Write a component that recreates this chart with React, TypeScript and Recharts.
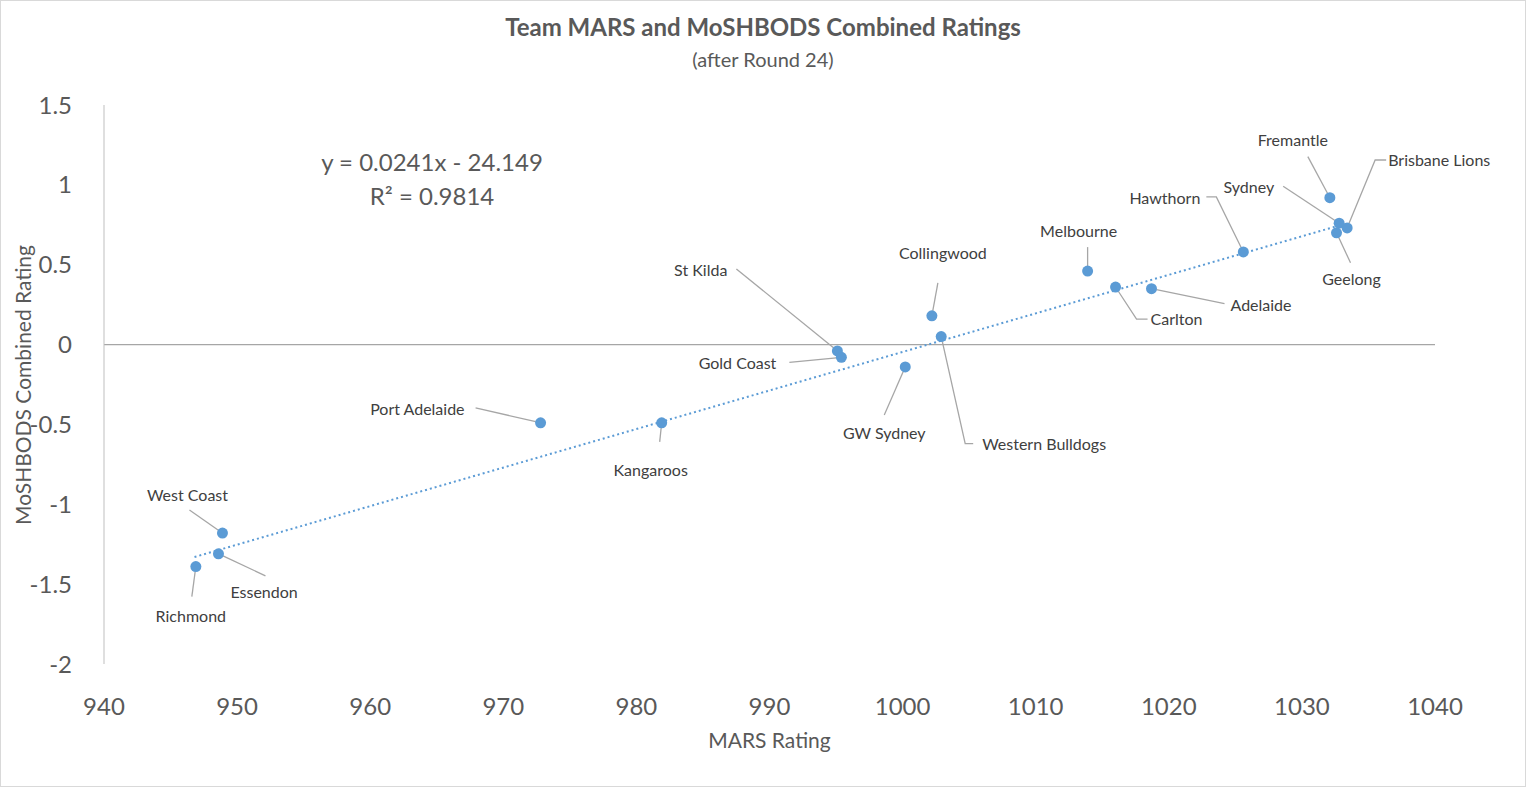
import React from "react";
import { ScatterChart, Scatter, XAxis, YAxis, ReferenceLine } from "recharts";

const teams = ["Richmond", "Essendon", "West Coast", "Port Adelaide", "Kangaroos", "St Kilda", "Gold Coast", "GW Sydney", "Collingwood", "Western Bulldogs", "Melbourne", "Carlton", "Adelaide", "Hawthorn", "Fremantle", "Sydney", "Geelong", "Brisbane Lions"];
const marsRatings = [946.9, 948.6, 948.9, 972.8, 981.9, 995.1, 995.4, 1000.2, 1002.2, 1002.9, 1013.9, 1016.0, 1018.7, 1025.6, 1032.1, 1032.8, 1032.6, 1033.4];
const moshbodsRatings = [-1.39, -1.31, -1.18, -0.49, -0.49, -0.04, -0.08, -0.14, 0.18, 0.05, 0.46, 0.36, 0.35, 0.58, 0.92, 0.76, 0.70, 0.73];
const trendX = [946.8, 1033.4];
const trendY = [-1.33, 0.76];
const xTicks = [940, 950, 960, 970, 980, 990, 1000, 1010, 1020, 1030, 1040];
const yTicks = [-2, -1.5, -1, -0.5, 0, 0.5, 1, 1.5];

// label placement: text offset, leader start offset, optional elbow offset (px from point)
const labelPos: Record<string, { t: [number, number]; anchor: string; l?: number[][] }> = {
  Richmond: { t: [-5, 55], anchor: "middle", l: [[-4, 30]] },
  Essendon: { t: [12, 44], anchor: "start", l: [[47, 22]] },
  "West Coast": { t: [-35, -32], anchor: "middle", l: [[-33, -23]] },
  "Port Adelaide": { t: [-76, -8], anchor: "end", l: [[-65, -15]] },
  Kangaroos: { t: [-11, 53], anchor: "middle", l: [[-2, 19]] },
  "St Kilda": { t: [-110, -75], anchor: "end", l: [[-101, -82]] },
  "Gold Coast": { t: [-65, 12], anchor: "end", l: [[-52, 5]] },
  "GW Sydney": { t: [-21, 72], anchor: "middle", l: [[-21, 48]] },
  Collingwood: { t: [11, -57], anchor: "middle", l: [[6, -33]] },
  "Western Bulldogs": { t: [41, 113], anchor: "start", l: [[32, 107], [24, 107]] },
  Melbourne: { t: [-9, -34], anchor: "middle", l: [[0, -24]] },
  Carlton: { t: [35, 38], anchor: "start", l: [[32, 32], [21, 32]] },
  Adelaide: { t: [79, 22], anchor: "start", l: [[73, 15]] },
  Hawthorn: { t: [-43, -48], anchor: "end", l: [[-37, -55], [-27, -55]] },
  Fremantle: { t: [-37, -52], anchor: "middle", l: [[-22, -41]] },
  Sydney: { t: [-65, -30], anchor: "end", l: [[-56, -37]] },
  Geelong: { t: [15, 52], anchor: "middle", l: [[14, 30]] },
  "Brisbane Lions": { t: [41, -62], anchor: "start", l: [[39, -68], [28, -68]] },
};

const points = teams.map((name, i) => ({ name, x: marsRatings[i], y: moshbodsRatings[i] }));
const trend = trendX.map((x, i) => ({ x, y: trendY[i] }));

const font = "Lato, 'Open Sans', sans-serif";
const grey = "#595959";

const TeamDot = (props: any) => {
  const { cx, cy, payload } = props;
  const p = labelPos[payload.name];
  const pts = [...(p.l || [])].map(([a, b]) => [cx + a, cy + b]);
  const last = pts[pts.length - 1];
  const ang = Math.atan2(last[1] - cy, last[0] - cx);
  const end = [cx + Math.cos(ang) * 5, cy + Math.sin(ang) * 5];
  const path = [...pts, end].map((q, i) => `${i ? "L" : "M"}${q[0]},${q[1]}`).join(" ");
  return (
    <g>
      <path d={path} stroke="#a6a6a6" strokeWidth={1.3} fill="none" />
      <circle cx={cx} cy={cy} r={5.5} fill="#5b9bd5" />
      <text x={cx + p.t[0]} y={cy + p.t[1]} textAnchor={p.anchor as any} fontSize={16} fill="#404040" fontFamily={font}>
        {payload.name}
      </text>
    </g>
  );
};

export default function App() {
  return (
    <div style={{ position: "absolute", left: 0, top: 0, width: 1526, height: 787, background: "#fff", fontFamily: font }}>
      <div style={{ position: "absolute", inset: 0, border: "1px solid #d9d9d9", boxSizing: "border-box" }} />
      <div style={{ position: "absolute", top: 12, width: "100%", textAlign: "center", fontSize: 24, fontWeight: 700, color: grey }}>
        Team MARS and MoSHBODS Combined Ratings
      </div>
      <div style={{ position: "absolute", top: 47, width: "100%", textAlign: "center", fontSize: 20, color: grey }}>(after Round 24)</div>
      <div style={{ position: "absolute", top: 145, left: 312, width: 240, textAlign: "center", fontSize: 24, color: grey, lineHeight: "34px" }}>
        y = 0.0241x - 24.149
        <br />
        R² = 0.9814
      </div>
      <div style={{ position: "absolute", top: 727, left: 104, width: 1331, textAlign: "center", fontSize: 21, color: grey }}>MARS Rating</div>
      <div style={{ position: "absolute", left: 22, top: 385, transform: "translate(-50%,-50%) rotate(-90deg)", whiteSpace: "nowrap", fontSize: 21, color: grey }}>
        MoSHBODS Combined Rating
      </div>
      <ScatterChart width={1526} height={787} margin={{ top: 105, right: 91, bottom: 43, left: 44 }} style={{ position: "absolute", left: 0, top: 0 }}>
        <XAxis type="number" dataKey="x" domain={[940, 1040]} ticks={xTicks} axisLine={false} tickLine={false} height={80} tickMargin={28} tick={{ fontSize: 24, fill: grey, fontFamily: font }} />
        <YAxis type="number" dataKey="y" domain={[-2, 1.5]} ticks={yTicks} width={60} tickLine={false} axisLine={{ stroke: "#bfbfbf" }} tickMargin={26} tick={{ fontSize: 24, fill: grey, fontFamily: font }} />
        <ReferenceLine y={0} stroke="#a6a6a6" strokeWidth={1.3} />
        <Scatter data={trend} line={{ stroke: "#5b9bd5", strokeWidth: 2, strokeDasharray: "2 3" }} shape={() => <g />} isAnimationActive={false} />
        <Scatter data={points} shape={TeamDot} isAnimationActive={false} />
      </ScatterChart>
    </div>
  );
}
